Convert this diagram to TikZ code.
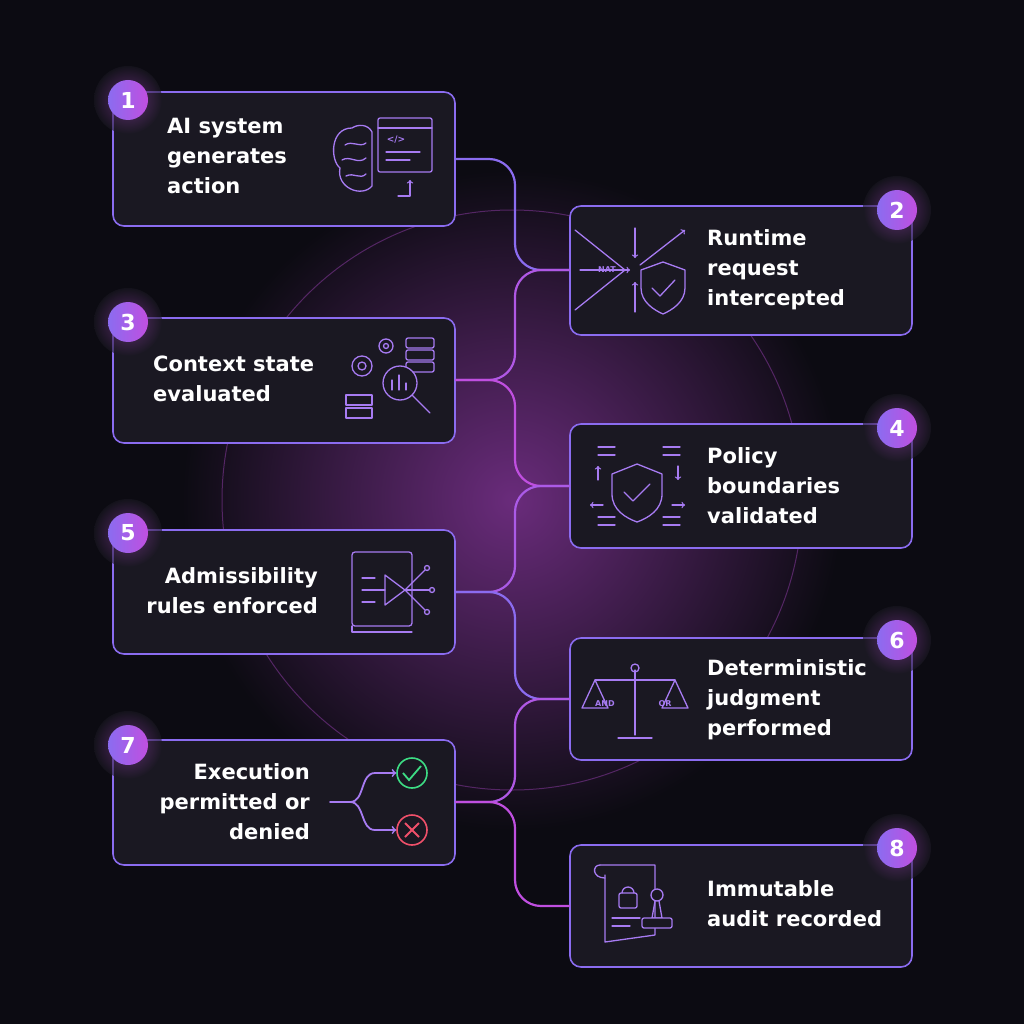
\documentclass[tikz,border=0pt]{standalone}
\usepackage{fontspec}
\setmainfont{DejaVu Sans}
\usetikzlibrary{calc}
\definecolor{bg}{HTML}{0C0B12}
\definecolor{boxfill}{HTML}{1A1822}
\definecolor{vio}{HTML}{8B6CF0}
\definecolor{mag}{HTML}{C04FE0}
\definecolor{icon}{HTML}{A77BF2}
\definecolor{okg}{HTML}{3DDC84}
\definecolor{bad}{HTML}{F0506A}
\tikzset{
 card/.style={draw=vio, line width=1.6pt, fill=boxfill, rounded corners=11pt},
 lbl/.style={text=white, font=\fontsize{21}{30}\selectfont\bfseries, inner sep=0pt},
 num/.style={circle, minimum size=40pt, inner sep=0pt, left color=vio, right color=mag, text=white, font=\fontsize{22}{22}\selectfont\bfseries},
 link/.style={line width=2.2pt, rounded corners=26pt},
 ic/.style={draw=icon, line width=1.3pt, line cap=round, line join=round},
}
\begin{document}
\begin{tikzpicture}[x=1pt,y=-1pt]
\useasboundingbox (0,0) rectangle (1024,1024);
\fill[bg] (0,0) rectangle (1024,1024);
\shade[inner color=mag!55!black, outer color=bg] (512,500) circle (330);
\draw[mag!40!bg, line width=1pt] (512,500) circle (290);
% cards
\draw[card] (113,92) rectangle (455,226);
\coordinate (b1e) at (455,159);
\draw[card] (570,206) rectangle (912,335); \coordinate (b2w) at (570,270);
\draw[card] (113,318) rectangle (455,443); \coordinate (b3e) at (455,380);
\draw[card] (570,424) rectangle (912,548); \coordinate (b4w) at (570,486);
\draw[card] (113,530) rectangle (455,654); \coordinate (b5e) at (455,592);
\draw[card] (570,638) rectangle (912,760); \coordinate (b6w) at (570,699);
\draw[card] (113,740) rectangle (455,865); \coordinate (b7e) at (455,802);
\draw[card] (570,845) rectangle (912,967); \coordinate (b8w) at (570,906);
% links
\draw[link, vio] (b1e) -| ([xshift=-55pt]b2w) -- (b2w);
\draw[link, mag!70!vio] (b3e) -| ([xshift=-55pt]b2w) -- (b2w);
\draw[link, mag] (b3e) -| ([xshift=-55pt]b4w) -- (b4w);
\draw[link, mag!60!vio] (b5e) -| ([xshift=-55pt]b4w) -- (b4w);
\draw[link, vio] (b5e) -| ([xshift=-55pt]b6w) -- (b6w);
\draw[link, mag!70!vio] (b7e) -| ([xshift=-55pt]b6w) -- (b6w);
\draw[link, mag] (b7e) -| ([xshift=-55pt]b8w) -- (b8w);
% numbers
\foreach \n/\x/\y in {1/128/100,2/897/210,3/128/322,4/897/428,5/128/533,6/897/640,7/128/745,8/897/848}{
 \shade[inner color=mag!70!boxfill, outer color=boxfill, opacity=0.6] (\x,\y) circle (34);
 \node[num] (n\n) at (\x,\y) {\n};
}
% texts
\node[lbl, anchor=north west, align=left] (t1) at (167,118) {AI system\\generates\\action};
\node[lbl, anchor=north west, align=left] (t2) at (707,229) {Runtime\\request\\intercepted};
\node[lbl, anchor=north west, align=left] (t3) at (153,356) {Context state\\evaluated};
\node[lbl, anchor=north west, align=left] (t4) at (707,447) {Policy\\boundaries\\validated};
\node[lbl, anchor=north east, align=right] (t5) at (318,567) {Admissibility\\rules enforced};
\node[lbl, anchor=north west, align=left] (t6) at (707,659) {Deterministic\\judgment\\performed};
\node[lbl, anchor=north east, align=right] (t7) at (310,763) {Execution\\permitted or\\denied};
\node[lbl, anchor=north west, align=left] (t8) at (707,880) {Immutable\\audit recorded};
% icon 1: brain + code window
\draw[ic] (352,128) .. controls (330,128) and (330,160) .. (340,168) .. controls (336,188) and (362,198) .. (372,186) -- (372,132) .. controls (368,124) and (358,124) .. (352,128);
\draw[ic] (345,145) .. controls (352,140) and (360,148) .. (366,143);
\draw[ic] (342,160) .. controls (350,155) and (358,165) .. (366,158);
\draw[ic] (346,176) .. controls (354,172) and (360,180) .. (366,174);
\draw[ic, rounded corners=2pt] (378,118) rectangle (432,172);
\draw[ic] (378,128) -- (432,128);
\node[text=icon, font=\fontsize{9}{9}\selectfont\bfseries] (c1) at (396,140) {</>};
\draw[ic] (386,152) -- (420,152); \draw[ic] (386,160) -- (410,160);
\draw[ic,->] (398,196) -- (410,196) -- (410,180);
% icon 2: arrows + shield
\draw[ic] (575,230) -- (625,270) -- (575,310);
\draw[ic,->] (580,270) -- (630,270);
\draw[ic,->] (635,228) -- (635,258); \draw[ic,->] (635,312) -- (635,282);
\draw[ic,->] (640,265) -- (685,230);
\node[text=icon, font=\fontsize{8}{8}\selectfont\bfseries] (c2) at (607,270) {NAT};
\draw[ic, fill=boxfill] (663,262) -- (685,270) -- (685,288) .. controls (685,302) and (672,310) .. (663,314) .. controls (654,310) and (641,302) .. (641,288) -- (641,270) -- cycle;
\draw[ic] (652,288) -- (660,296) -- (675,280);
% icon 3
\draw[ic] (362,366) circle (10); \draw[ic] (362,366) circle (4);
\draw[ic] (386,346) circle (7); \draw[ic] (386,346) circle (2.5);
\foreach \i in {0,1,2}{\draw[ic, rounded corners=2pt] (406,338+\i*12) rectangle (434,348+\i*12);}
\draw[ic, fill=boxfill] (400,383) circle (17); \draw[ic] (412,395) -- (430,413);
\draw[ic] (392,390) -- (392,380); \draw[ic] (399,390) -- (399,375); \draw[ic] (406,390) -- (406,383);
\draw[ic] (346,395) rectangle (372,405); \draw[ic] (346,408) rectangle (372,418);
% icon 4
\draw[ic] (637,464) -- (662,474) -- (662,494) .. controls (662,510) and (648,518) .. (637,522) .. controls (626,518) and (612,510) .. (612,494) -- (612,474) -- cycle;
\draw[ic] (624,492) -- (633,501) -- (650,484);
\foreach \y in {447,455}{\draw[ic] (598,\y) -- (615,\y); \draw[ic] (663,\y) -- (680,\y);}
\foreach \y in {517,525}{\draw[ic] (598,\y) -- (615,\y); \draw[ic] (663,\y) -- (680,\y);}
\draw[ic,->] (598,480) -- (598,466); \draw[ic,->] (678,466) -- (678,480);
\draw[ic,->] (603,505) -- (590,505); \draw[ic,->] (672,505) -- (685,505);
% icon 5
\draw[ic, rounded corners=3pt] (352,552) rectangle (412,626);
\draw[ic] (352,626) -- (352,632) -- (412,632);
\draw[ic] (385,575) -- (405,590) -- (385,605) -- cycle;
\draw[ic] (362,590) -- (385,590); \draw[ic] (362,578) -- (375,578); \draw[ic] (362,602) -- (375,602);
\draw[ic] (405,590) -- (430,590); \draw[ic] (405,590) -- (425,570); \draw[ic] (405,590) -- (425,610);
\foreach \p in {(432,590),(427,568),(427,612)}{\draw[ic] \p circle (2.5);}
% icon 6
\draw[ic] (635,670) -- (635,735); \draw[ic] (618,738) -- (652,738);
\draw[ic] (595,680) -- (675,680); \draw[ic] (635,668) circle (4);
\draw[ic] (595,680) -- (582,708) -- (608,708) -- cycle;
\draw[ic] (675,680) -- (662,708) -- (688,708) -- cycle;
\node[text=icon, font=\fontsize{8}{8}\selectfont\bfseries] (c6a) at (605,704) {AND};
\node[text=icon, font=\fontsize{8}{8}\selectfont\bfseries] (c6b) at (665,704) {OR};
% icon 7
\coordinate (s7) at (330,802);
\node[draw=okg, circle, line width=1.6pt, minimum size=30pt] (ok) at (412,773) {};
\node[draw=bad, circle, line width=1.6pt, minimum size=30pt] (no) at (412,830) {};
\draw[okg, line width=1.8pt] (403,773) -- (409,780) -- (421,766);
\draw[bad, line width=1.8pt] (405,823) -- (419,837) (419,823) -- (405,837);
\draw[ic, line width=1.8pt, ->] (s7) -- (350,802) .. controls (365,802) and (360,773) .. (375,773) -- (ok.west);
\draw[ic, line width=1.8pt, ->] (350,802) .. controls (365,802) and (360,830) .. (375,830) -- (no.west);
% icon 8
\draw[ic] (600,865) -- (655,865) -- (655,935) -- (605,942) -- (605,875);
\draw[ic] (600,865) .. controls (592,865) and (592,878) .. (605,878);
\draw[ic, rounded corners=2pt] (619,893) rectangle (637,908);
\draw[ic] (622,893) arc (180:360:6);
\draw[ic] (612,918) -- (640,918); \draw[ic] (612,926) -- (630,926);
\draw[ic, fill=boxfill] (657,895) circle (6); \draw[ic] (655,901) -- (652,918) -- (662,918) -- (659,901);
\draw[ic, fill=boxfill, rounded corners=2pt] (642,918) rectangle (672,928);
\end{tikzpicture}
\end{document}
